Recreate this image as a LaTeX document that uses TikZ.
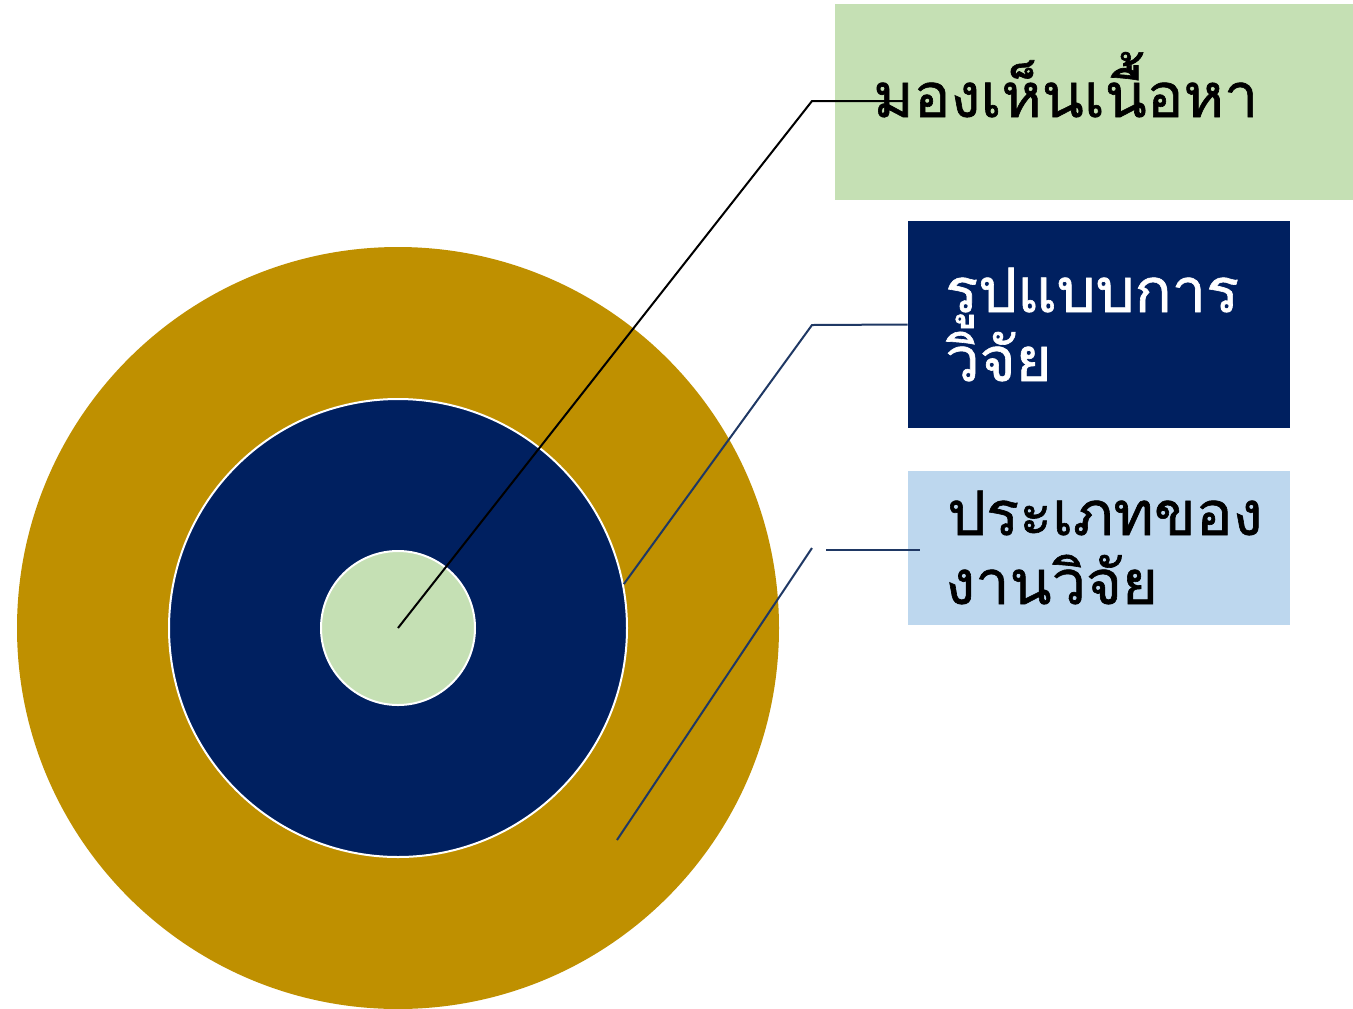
\documentclass[tikz,border=0pt]{standalone}
\usepackage{fontspec}
\newfontfamily\thaifont[Script=Thai,FakeBold=1]{Loma}
\definecolor{gold}{HTML}{BF9000}
\definecolor{navy}{HTML}{002060}
\definecolor{lgreen}{HTML}{C5E0B4}
\definecolor{lblue}{HTML}{BDD7EE}
\definecolor{linenavy}{HTML}{1F3864}
\begin{document}
\begin{tikzpicture}[x=0.75pt,y=-0.75pt,
  ring/.style={circle,inner sep=0pt},
  box/.style={rectangle,inner sep=0pt,draw=none},
  lbl/.style={anchor=base west,inner sep=0pt,font=\thaifont\fontsize{46}{51}\selectfont},
  conn/.style={line width=1.5pt}]
\useasboundingbox (0,0) rectangle (1353,1008);
% circles
\node[ring,fill=gold,minimum size=762*0.75pt] (outer) at (398,628) {};
\node[ring,fill=navy,draw=white,line width=1.5pt,minimum size=458*0.75pt] (mid) at (398,628) {};
\node[ring,fill=lgreen,draw=white,line width=1.5pt,minimum size=154*0.75pt] (inner) at (398,628) {};
% boxes
\node[box,fill=lgreen,minimum width=518*0.75pt,minimum height=196*0.75pt] (b1) at (1094,102) {};
\node[box,fill=navy,minimum width=382*0.75pt,minimum height=207*0.75pt] (b2) at (1099,324.5) {};
\node[box,fill=lblue,minimum width=382*0.75pt,minimum height=154*0.75pt] (b3) at (1099,548) {};
% connectors
\coordinate (k1) at (812,101);
\coordinate (e1) at (905,101);
\coordinate (k2) at (812,325);
\coordinate (s3) at (617,840);
\coordinate (k3) at (812,548);
\coordinate (h3a) at (826,550);
\coordinate (h3b) at (920,550);
\draw[conn,black] (inner.center) -- (k1) -- (e1);
\draw[conn,linenavy] (mid.11.7) -- (k2) -- (b2.west);
\draw[conn,linenavy] (s3) -- (k3);
\draw[conn,linenavy] (h3a) -- (h3b);
% labels
\node[lbl,text=black] (t1) at (873,117) {มองเห็นเนื้อหา};
\node[lbl,text=white] (t2a) at (945,312) {รูปแบบการ};
\node[lbl,text=white] (t2b) at (945,381) {วิจัย};
\node[lbl,text=black] (t3a) at (947,535) {ประเภทของ};
\node[lbl,text=black] (t3b) at (945,604) {งานวิจัย};
\end{tikzpicture}
\end{document}
